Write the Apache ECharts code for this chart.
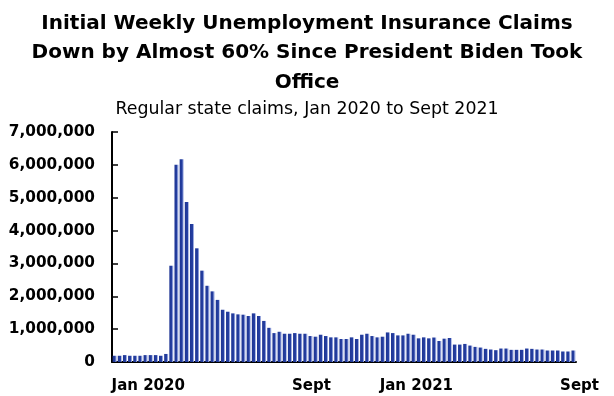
<!DOCTYPE html>
<html>
<head>
<meta charset="utf-8">
<script src="https://cdn.jsdelivr.net/npm/echarts@6/dist/echarts.min.js"></script>
<style>html,body{margin:0;padding:0;background:#fff;}#c{width:614px;height:396px;}</style>
</head>
<body>
<div id="c"></div>
<script>
// Weekly regular state initial claims (millions), weeks ending Jan 4 2020 .. Sep 18 2021
const claimsMillions = [
  0.19,0.19,0.21,0.19,0.19,0.19,0.21,0.21,0.21,0.19,0.245,
  2.93,6.00,6.17,4.87,4.20,3.46,2.78,2.32,2.15,1.89,
  1.59,1.53,1.48,1.45,1.44,1.40,1.48,1.40,1.25,1.04,
  0.88,0.92,0.86,0.86,0.88,0.86,0.86,0.79,0.77,0.83,
  0.79,0.75,0.75,0.70,0.70,0.75,0.70,0.83,0.86,0.79,
  0.75,0.77,0.90,0.88,0.81,0.81,0.86,0.83,0.72,0.75,
  0.72,0.745,0.64,0.71,0.73,0.53,0.53,0.55,0.50,0.46,
  0.44,0.40,0.38,0.36,0.41,0.41,0.37,0.37,0.37,0.41,
  0.40,0.38,0.38,0.35,0.35,0.35,0.32,0.32,0.35
];
const weekCount = claimsMillions.length;
const startWeek = new Date(Date.UTC(2020, 0, 4));
const categories = [];
for (let i = 0; i < weekCount; i++) {
  const d = new Date(startWeek.getTime() + i * 7 * 86400000);
  categories.push(d.toISOString().slice(0, 10));
}
const tickIndexes = [0, 35, 52, 87];
const tickLabels = ['Jan 2020', 'Sept', 'Jan 2021', 'Sept'];
const yMax = 7000000, yStep = 1000000;
const titleText = 'Initial Weekly Unemployment Insurance Claims\nDown by Almost 60% Since President Biden Took\nOffice';
const subtitleText = 'Regular state claims, Jan 2020 to Sept 2021';

const chart = echarts.init(document.getElementById('c'), null, {renderer: 'canvas'});
const FONT = '"DejaVu Sans", sans-serif';
chart.setOption({
  animation: false,
  title: [
    {text: titleText, left: 'center', top: 4,
     textStyle: {fontFamily: FONT, fontWeight: 'bold', fontSize: 20, lineHeight: 29.5, color: '#000'}},
    {text: subtitleText, left: 'center', top: 96,
     textStyle: {fontFamily: FONT, fontWeight: 'normal', fontSize: 17.4, color: '#000'}}
  ],
  grid: {left: 112, right: 38, top: 132, bottom: 34, containLabel: false},
  xAxis: {
    type: 'category',
    data: categories,
    boundaryGap: true,
    axisLine: {lineStyle: {color: '#000', width: 2}},
    axisTick: {show: false},
    axisLabel: {
      interval: 0,
      align: 'left',
      margin: 17,
      padding: [0, 0, 0, -3],
      fontFamily: FONT, fontWeight: 'bold', fontSize: 15, color: '#000',
      formatter: function (v, idx) {
        const k = tickIndexes.indexOf(idx);
        return k >= 0 ? tickLabels[k] : '';
      }
    }
  },
  yAxis: {
    type: 'value',
    min: 0, max: yMax, interval: yStep,
    axisLine: {show: true, lineStyle: {color: '#000', width: 2}},
    axisTick: {show: true, inside: true, length: 6, lineStyle: {color: '#000', width: 1.5}},
    splitLine: {show: false},
    axisLabel: {
      margin: 17,
      fontFamily: FONT, fontWeight: 'bold', fontSize: 15.3, color: '#000',
      formatter: function (v) { return v.toLocaleString('en-US'); }
    }
  },
  series: [{
    type: 'bar',
    data: claimsMillions.map(v => Math.round(v * 1000000)),
    barWidth: '76%',
    itemStyle: {
      color: new echarts.graphic.LinearGradient(0, 0, 1, 0, [
        {offset: 0, color: '#1f3593'},
        {offset: 0.7, color: '#2540a3'},
        {offset: 0.76, color: '#7f90d2'},
        {offset: 1, color: '#96a5dd'}
      ])
    }
  }]
});
</script>
</body>
</html>
